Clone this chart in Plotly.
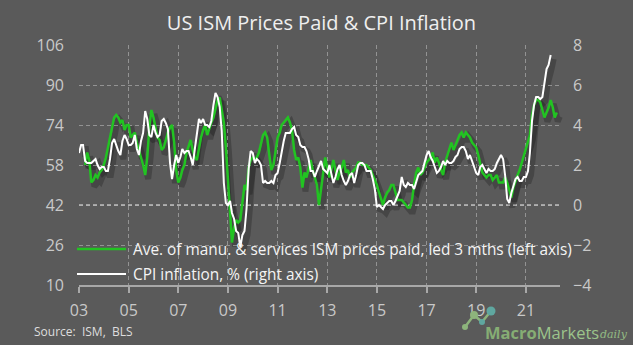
import pandas as pd
import plotly.graph_objects as go

# ---------------------------------------------------------------- data
# US CPI inflation, % y/y, monthly from Jan 2003 (right axis)
cpi_start = "2003-01-01"
cpi_yoy = [
    2.6, 3.0, 3.0, 2.2, 2.1, 2.1, 2.1, 2.2, 2.3, 2.0, 1.8, 1.9,      # 2003
    1.9, 1.7, 1.7, 2.3, 3.1, 3.3, 3.0, 2.7, 2.5, 3.2, 3.5, 3.3,      # 2004
    3.0, 3.0, 3.1, 3.5, 2.8, 2.5, 3.2, 3.6, 4.7, 4.3, 3.5, 3.4,      # 2005
    4.0, 3.6, 3.4, 3.5, 4.2, 4.3, 4.1, 3.8, 2.1, 1.3, 2.0, 2.5,      # 2006
    2.1, 2.4, 2.8, 2.6, 2.7, 2.7, 2.4, 2.0, 2.8, 3.5, 4.3, 4.1,      # 2007
    4.3, 4.0, 4.0, 3.9, 4.2, 5.0, 5.6, 5.4, 4.9, 3.7, 1.1, 0.1,      # 2008
    0.0, 0.2, -0.4, -0.7, -1.3, -1.4, -2.1, -1.5, -1.3, -0.2, 1.8, 2.7,  # 2009
    2.6, 2.1, 2.3, 2.2, 2.0, 1.1, 1.2, 1.1, 1.1, 1.2, 1.1, 1.5,      # 2010
    1.6, 2.1, 2.7, 3.2, 3.6, 3.6, 3.6, 3.8, 3.9, 3.5, 3.4, 3.0,      # 2011
    2.9, 2.9, 2.7, 2.3, 1.7, 1.7, 1.4, 1.7, 2.0, 2.2, 1.8, 1.7,      # 2012
    1.6, 2.0, 1.5, 1.1, 1.4, 1.8, 2.0, 1.5, 1.2, 1.0, 1.2, 1.5,      # 2013
    1.6, 1.1, 1.5, 2.0, 2.1, 2.1, 2.0, 1.7, 1.7, 1.7, 1.3, 0.8,      # 2014
    -0.1, 0.0, -0.1, -0.2, 0.0, 0.1, 0.2, 0.2, 0.0, 0.2, 0.5, 0.7,   # 2015
    1.4, 1.0, 0.9, 1.1, 1.0, 1.0, 0.8, 1.1, 1.5, 1.6, 1.7, 2.1,      # 2016
    2.5, 2.7, 2.4, 2.2, 1.9, 1.6, 1.7, 1.9, 2.2, 2.0, 2.2, 2.1,      # 2017
    2.1, 2.2, 2.4, 2.5, 2.8, 2.9, 2.9, 2.7, 2.3, 2.5, 2.2, 1.9,      # 2018
    1.6, 1.5, 1.9, 2.0, 1.8, 1.6, 1.8, 1.7, 1.7, 1.8, 2.1, 2.3,      # 2019
    2.5, 2.3, 1.5, 0.3, 0.1, 0.6, 1.0, 1.3, 1.4, 1.2, 1.2, 1.4,      # 2020
    1.4, 1.7, 2.6, 4.2, 5.0, 5.4, 5.4, 5.3, 5.4, 6.2, 6.8, 7.0,      # 2021
    7.5,                                                             # 2022
]

# Average of manufacturing & services ISM prices paid, plotted 3 months ahead
ism_start = "2003-04-01"
ism_prices = [
    58, 63, 60, 51, 52, 54, 53, 55, 56,                 # 2003 (Apr-Dec)
    58, 61, 65, 68, 72, 77, 78, 77, 75, 76, 72, 74,     # 2004
    74, 69, 70, 71, 67, 64, 61, 58, 54, 61, 73, 80,     # 2005
    77, 72, 69, 68, 64, 65, 68, 71, 73, 74, 67, 56,     # 2006
    51, 53, 56, 58, 63, 66, 68, 64, 61, 60, 65, 69,     # 2007
    72, 74, 70, 73, 75, 77, 80, 84, 85, 80, 75, 65,     # 2008
    51, 40, 27, 33, 36, 35, 36, 43, 50, 48, 57, 60,     # 2009
    61, 60, 61, 63, 66, 70, 71, 69, 62, 56, 58, 63,     # 2010
    69, 71, 74, 75, 76, 77, 75, 72, 64, 60, 61, 57,     # 2011
    49, 55, 53, 57, 60, 56, 53, 50, 42, 48, 56, 61,     # 2012
    57, 53, 56, 60, 56, 52, 55, 57, 60, 55, 56, 53,     # 2013
    55, 56, 57, 59, 59, 58, 58, 58, 57, 56, 54, 52,     # 2014
    50, 47, 45, 42, 45, 47, 48, 50, 50, 47, 44, 44,     # 2015
    44, 43, 42, 41, 41, 44, 50, 55, 57, 54, 55, 57,     # 2016
    59, 60, 61, 63, 59, 61, 59, 56, 54, 59, 62, 65,     # 2017
    67, 64, 66, 68, 70, 71, 69, 71, 70, 69, 67, 66,     # 2018
    65, 62, 58, 55, 54, 53, 54, 54, 52, 53, 54, 51,     # 2019
    51, 51, 53, 51, 48, 45, 49, 52, 54, 56, 59, 62,     # 2020
    64, 67, 70, 78, 82, 84, 84, 83, 80, 77, 79, 81,     # 2021
    84, 81, 77, 79,                                     # 2022 (Jan-Apr)
]

left_ticks = [10, 26, 42, 58, 74, 90, 106]
right_ticks = [-4, -2, 0, 2, 4, 6, 8]
x_range = ["2003-01-01", "2022-05-18"]

title_text = "US ISM Prices Paid &amp; CPI Inflation"
ism_label = "Ave. of manu. &amp; services ISM prices paid, led 3 mths (left axis)"
cpi_label = "CPI inflation, % (right axis)"
source_text = "Source:  ISM,  BLS"

cpi_dates = pd.date_range(cpi_start, periods=len(cpi_yoy), freq="MS")
ism_dates = pd.date_range(ism_start, periods=len(ism_prices), freq="MS")

# ---------------------------------------------------------------- style
W, H = 633, 345
M_L, M_R, M_T, M_B = 79, 69, 45, 56
PW, PH = W - M_L - M_R, H - M_T - M_B      # paper area in px
BG = "#5a5a5a"
GREEN = "#22c322"
WHITE = "#ffffff"
TICK = "#c9c9c9"
GRID = "rgba(185,185,185,0.6)"
FONT = "Open Sans"
SHADOW = "rgba(0,0,0,0.22)"


def px_x(p):
    return (p - M_L) / PW


def px_y(p):
    return (H - M_B - p) / PH


fig = go.Figure()

# soft drop shadow under both lines (base subplot, offset slightly down-right)
fig.add_trace(go.Scatter(x=ism_dates, y=ism_prices, xaxis="x", yaxis="y",
                         mode="lines", line=dict(color=SHADOW, width=6),
                         hoverinfo="skip", showlegend=False))
fig.add_trace(go.Scatter(x=cpi_dates, y=cpi_yoy, xaxis="x", yaxis="y2",
                         mode="lines", line=dict(color=SHADOW, width=6),
                         hoverinfo="skip", showlegend=False))

# main series
fig.add_trace(go.Scatter(x=ism_dates, y=ism_prices, xaxis="x2", yaxis="y3",
                         mode="lines", line=dict(color=GREEN, width=2.5),
                         name="ISM prices paid", showlegend=False))
fig.add_trace(go.Scatter(x=cpi_dates, y=cpi_yoy, xaxis="x2", yaxis="y4",
                         mode="lines", line=dict(color=WHITE, width=2),
                         name="CPI inflation", showlegend=False))

tick_font = dict(family=FONT, size=16, color=TICK)

fig.update_layout(
    width=W, height=H,
    margin=dict(l=M_L, r=M_R, t=M_T, b=M_B, pad=0),
    paper_bgcolor=BG, plot_bgcolor="rgba(0,0,0,0)",
    font=dict(family=FONT, color=WHITE),
    showlegend=False,
    title=dict(text=title_text, x=0.5, xanchor="center", xref="paper",
               y=1 - 23 / H, yanchor="middle", yref="container",
               font=dict(family=FONT, size=20, color="#efefef")),
    # shadow axes
    xaxis=dict(type="date", range=x_range, domain=[3 / PW, (3 + PW - 4) / PW],
               visible=False, anchor="y"),
    yaxis=dict(range=[10, 106], domain=[0, (PH - 4) / PH], visible=False, anchor="x"),
    yaxis2=dict(range=[-4, 8], overlaying="y", visible=False, anchor="x"),
    # visible axes
    xaxis2=dict(type="date", range=x_range, domain=[0, (PW - 4) / PW], anchor="y3",
                tickformat="%y", dtick="M24", tick0="2003-01-01",
                showgrid=True, gridcolor=GRID, griddash="4px,3px", gridwidth=1,
                ticks="outside", ticklen=6, tickwidth=1.5, tickcolor="#a8a8a8",
                showline=True, linecolor="#a8a8a8", linewidth=2,
                zeroline=False, tickfont=tick_font, ticklabelstandoff=4),
    yaxis3=dict(range=[10, 106], domain=[4 / PH, 1], anchor="x2",
                tickmode="array", tickvals=left_ticks,
                showgrid=True, gridcolor=GRID, griddash="4px,3px", gridwidth=1,
                ticks="", showline=False, zeroline=False,
                tickfont=tick_font, ticklabelstandoff=14),
    yaxis4=dict(range=[-4, 8], overlaying="y3", side="right", anchor="x2",
                tickmode="array", tickvals=right_ticks,
                showgrid=False, ticks="", showline=False, zeroline=False,
                tickfont=tick_font, ticklabelstandoff=12),
)

# zero / 42 reference line
fig.add_shape(type="line", xref="x2 domain", x0=0, x1=1, yref="y3", y0=42, y1=42,
              line=dict(color="rgba(255,255,255,0.9)", width=1.2, dash="4px,3px"),
              layer="below")

# legend drawn in the lower-left corner of the plot
for ypx, col, lab in [(249, GREEN, ism_label), (274, WHITE, cpi_label)]:
    fig.add_shape(type="line", xref="paper", yref="paper",
                  x0=px_x(77), x1=px_x(126), y0=px_y(ypx), y1=px_y(ypx),
                  line=dict(color=col, width=2.5 if col == GREEN else 2))
    fig.add_annotation(text=lab, xref="paper", yref="paper",
                       x=px_x(131), y=px_y(ypx), xanchor="left", yanchor="middle",
                       showarrow=False, font=dict(family=FONT, size=15.4, color="#f4f4f4"))

# source note
fig.add_annotation(text=source_text, xref="paper", yref="paper",
                   x=px_x(32), y=px_y(331), xanchor="left", yanchor="middle",
                   showarrow=False, font=dict(family=FONT, size=12, color="#dedede"))

# brand mark
LOGO_G = "#8db47c"
LOGO_T = "#5fa7a0"
fig.add_shape(type="path", xref="paper", yref="paper",
              path=("M {:.4f},{:.4f} L {:.4f},{:.4f} L {:.4f},{:.4f} L {:.4f},{:.4f}"
                    .format(px_x(465), px_y(327), px_x(474), px_y(315),
                            px_x(482), px_y(322), px_x(491), px_y(311))),
              line=dict(color=LOGO_G, width=2.5))
for cx, cy, r, c in [(465, 327, 3, LOGO_G), (474, 315, 4, LOGO_G),
                     (482, 322, 3, LOGO_T), (491, 311, 4.5, LOGO_T)]:
    fig.add_shape(type="circle", xref="paper", yref="paper",
                  x0=px_x(cx - r), x1=px_x(cx + r), y0=px_y(cy + r), y1=px_y(cy - r),
                  fillcolor=c, line=dict(width=0))
fig.add_annotation(text="<b>Macro</b><span style='color:#9cc48b'>Markets</span>",
                   xref="paper", yref="paper", x=px_x(483), y=px_y(332),
                   xanchor="left", yanchor="middle", showarrow=False,
                   font=dict(family=FONT, size=16.5, color="#86ad74"))
fig.add_annotation(text="<i>daily</i>", xref="paper", yref="paper",
                   x=px_x(598), y=px_y(335), xanchor="left", yanchor="middle",
                   showarrow=False, font=dict(family="DejaVu Serif", size=11, color="#93bb83"))

fig.write_html("out.html")
